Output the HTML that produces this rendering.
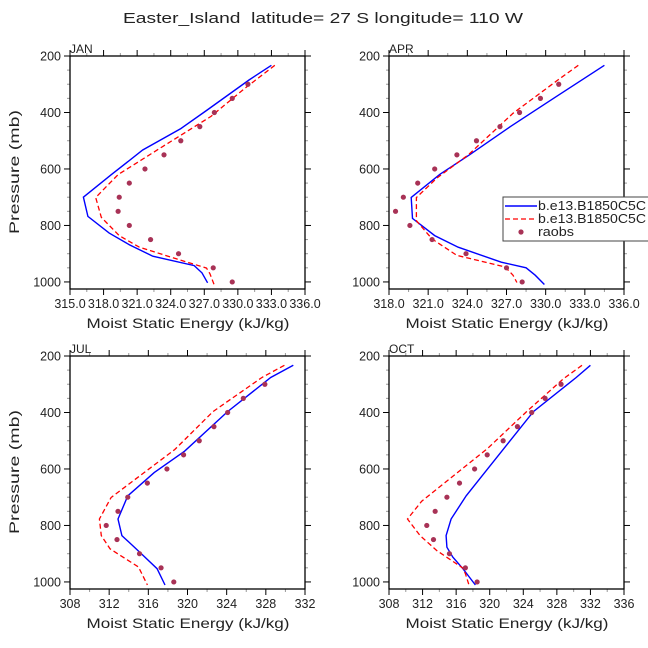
<!DOCTYPE html>
<html><head><meta charset="utf-8"><style>
html,body{margin:0;padding:0;background:#fff;}
svg{display:block;font-family:"Liberation Sans","DejaVu Sans",sans-serif;}
</style></head><body>
<svg id="c" width="648" height="648" viewBox="0 0 648 648">
<text x="123" y="23" textLength="400" lengthAdjust="spacingAndGlyphs" font-size="15" fill="#222" style="white-space:pre">Easter_Island  latitude= 27 S longitude= 110 W</text>
<text transform="translate(19,172) rotate(-90)" text-anchor="middle" textLength="124" lengthAdjust="spacingAndGlyphs" font-size="14" fill="#222">Pressure (mb)</text>
<text transform="translate(19,472) rotate(-90)" text-anchor="middle" textLength="124" lengthAdjust="spacingAndGlyphs" font-size="14" fill="#222">Pressure (mb)</text>
</svg>
<script>
const panelNames=["JAN","APR","JUL","OCT"];
const xMins=[315,318,308,308];
const xMaxs=[336,336,332,336];
const xStepsMajor=[3,3,4,4];
const yTicks=[200,400,600,800,1000];
const raobP=[300,350,400,450,500,550,600,650,700,750,800,850,900,950,1000];
const raobJAN=[330.9,329.5,327.9,326.6,324.9,323.4,321.7,320.3,319.4,319.3,320.3,322.2,324.7,327.8,329.5];
const raobAPR=[331.0,329.6,328.0,326.5,324.7,323.2,321.5,320.2,319.1,318.5,319.6,321.3,323.9,327.0,328.2];
const raobJUL=[327.9,325.7,324.1,322.7,321.2,319.6,317.9,315.9,313.9,312.9,311.7,312.8,315.1,317.3,318.6];
const raobOCT=[328.5,326.6,325.0,323.3,321.6,319.7,318.2,316.4,314.9,313.5,312.5,313.3,315.2,317.1,318.5];
const blueJANp=[233,285,393,457,533,620,700,768,827,868,909,942,968,1003];
const blueJANv=[333.0,331.0,327.2,324.9,321.5,318.7,316.2,316.6,318.5,320.3,322.4,326.1,326.8,327.3];
const redJANp=[233,315,414,520,620,701,771,836,877,918,951,971,1012];
const redJANv=[333.3,330.6,327.6,323.3,319.3,317.3,317.8,319.4,321.2,324.5,327.2,327.5,327.9];
const blueAPRp=[233,344,450,549,619,701,775,836,877,930,950,976,1009];
const blueAPRv=[334.5,330.8,327.3,324.2,321.9,319.7,319.8,321.5,323.3,326.6,328.5,329.2,329.9];
const redAPRp=[233,283,403,549,631,701,783,848,906,947,976,1002];
const redAPRv=[332.5,331.0,327.5,324.1,321.7,320.1,320.1,321.3,323.2,326.9,327.5,327.8];
const blueJULp=[233,276,397,537,613,695,777,836,894,953,1011];
const blueJULv=[330.8,328.5,324.1,319.7,316.6,313.9,312.9,313.3,315.1,316.9,317.7];
const redJULp=[233,276,397,531,701,777,836,883,947,1011];
const redJULv=[329.9,327.6,322.6,318.7,312.2,311.0,311.2,312.1,315.0,315.9];
const blueOCTp=[233,276,397,613,695,777,836,877,912,953,1011];
const blueOCTv=[332.0,330.3,325.2,319.4,317.2,315.4,314.8,314.9,315.6,316.8,318.3];
const redOCTp=[233,280,397,526,714,777,836,889,951,971,1018];
const redOCTv=[331.0,328.8,324.4,319.8,311.9,310.2,311.7,313.7,316.8,317.1,317.6];

const svg=document.getElementById('c');
const NS='http://www.w3.org/2000/svg';
function mk(tag,attrs,parent){const e=document.createElementNS(NS,tag);for(const k in attrs)e.setAttribute(k,attrs[k]);(parent||svg).appendChild(e);return e;}
const boxes=[{l:70,r:305,t:56},{l:389,r:624,t:56},{l:70,r:305,t:356},{l:389,r:624,t:356}];
const raobs=[raobJAN,raobAPR,raobJUL,raobOCT];
const blues=[[blueJANp,blueJANv],[blueAPRp,blueAPRv],[blueJULp,blueJULv],[blueOCTp,blueOCTv]];
const reds=[[redJANp,redJANv],[redAPRp,redAPRv],[redJULp,redJULv],[redOCTp,redOCTv]];
const pTop=200,pBot=1025;
for(let i=0;i<4;i++){
  const b=boxes[i];const bot=b.t+233;
  const xs=v=>b.l+(v-xMins[i])/(xMaxs[i]-xMins[i])*(b.r-b.l);
  const ys=p=>b.t+(p-pTop)/(pBot-pTop)*233;
  const g=mk('g',{});
  
  
  const lab=mk('text',{x:b.l,y:b.t-3,'font-size':12,fill:'#222'},g);lab.textContent=panelNames[i];
  
  
  for(let p=200;p<=1000;p+=50){
    const y=ys(p);const maj=p%200===0;const len=maj?6:3;const col=maj?'#000':'#999';
    mk('line',{x1:b.l-len,x2:b.l,y1:y,y2:y,stroke:col,'stroke-width':1},g);
    mk('line',{x1:b.r,x2:b.r+len,y1:y,y2:y,stroke:col,'stroke-width':1},g);
  }
  yTicks.forEach(p=>{const t=mk('text',{x:b.l-9,y:ys(p)+4.5,'text-anchor':'end','font-size':12.5,fill:'#222'},g);t.textContent=p;
    
    });
  const st=xStepsMajor[i];
  for(let v=xMins[i];v<=xMaxs[i]+1e-6;v+=st/2){
    const k=Math.round((v-xMins[i])/(st/2));const maj=k%2===0;const len=maj?6:3;const col=maj?'#000':'#999';const x=xs(v);
    mk('line',{x1:x,x2:x,y1:bot,y2:bot+len,stroke:col},g);
    mk('line',{x1:x,x2:x,y1:b.t-len,y2:b.t,stroke:col},g);
    if(maj){const t=mk('text',{x:x,y:bot+19,'text-anchor':'middle','font-size':12.5,fill:'#222'},g);t.textContent=(i<2)?v.toFixed(1):v;
      
      }
  }
  const xt=mk('text',{x:(b.l+b.r)/2-101,y:bot+39,textLength:203,lengthAdjust:'spacingAndGlyphs','font-size':14,fill:'#222'},g);xt.textContent='Moist Static Energy (kJ/kg)';
  
  
  mk('rect',{x:b.l,y:b.t,width:b.r-b.l,height:233,fill:'none',stroke:'#000','stroke-width':1.3},g);
  const pts=(ps,vs)=>ps.map((p,j)=>xs(vs[j]).toFixed(1)+','+ys(p).toFixed(1)).join(' ');
  const bl=mk('polyline',{points:pts(blues[i][0],blues[i][1]),fill:'none',stroke:'#0000ff','stroke-width':1.4},g);
  
  
  const rl=mk('polyline',{points:pts(reds[i][0],reds[i][1]),fill:'none',stroke:'#ff0000','stroke-width':1.3,'stroke-dasharray':'5,3'},g);
  
  
  raobP.forEach((p,j)=>{const c=mk('circle',{cx:xs(raobs[i][j]),cy:ys(p),r:2.6,fill:'#a83256'},g);
    
    });
}
const lg=mk('g',{});


mk('rect',{x:503,y:197,width:150,height:44,fill:'#fff',stroke:'#444','stroke-width':1},lg);
mk('line',{x1:505,x2:537,y1:206,y2:206,stroke:'#0000ff','stroke-width':1.4},lg);
mk('line',{x1:505,x2:537,y1:219,y2:219,stroke:'#ff0000','stroke-width':1.3,'stroke-dasharray':'5,3'},lg);
mk('circle',{cx:521,cy:232,r:2.6,fill:'#a83256'},lg);
[['b.e13.B1850C5C',210,108],['b.e13.B1850C5C',223,108],['raobs',236,36]].forEach(([s,y,w])=>{const t=mk('text',{x:538,y:y,'font-size':13,fill:'#222',textLength:w,lengthAdjust:'spacingAndGlyphs'},lg);t.textContent=s;
  
  });
</script>
</body></html>
